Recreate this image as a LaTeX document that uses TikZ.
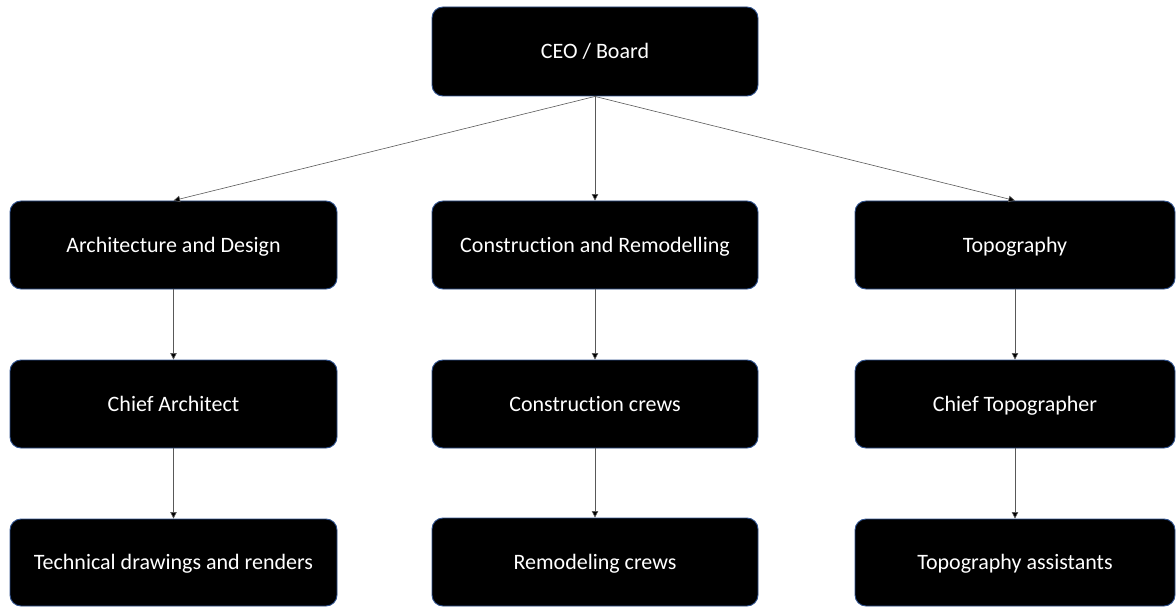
\documentclass[tikz,border=0pt]{standalone}
\usepackage{fontspec}
\setmainfont{Carlito}[Ligatures=NoCommon]
\usetikzlibrary{arrows.meta}
\begin{document}
\begin{tikzpicture}[x=1pt,y=-1pt,
  orgbox/.style={draw={rgb,255:red,47;green,82;blue,143}, line width=0.9pt,
    fill=black, text=white, rounded corners=11pt, inner sep=0pt,
    text height=17pt, text depth=3pt,
    font=\fontsize{22}{26}\selectfont},
  link/.style={draw=black!65, line width=0.6pt,
    -{Triangle[length=6.5pt,width=6.5pt,fill=black]}}]
  \useasboundingbox (0,0) rectangle (1176,607);

  % boxes given by their corners
  \newcommand{\orgnode}[6]{%
    \node[orgbox, minimum width=#4-#2, minimum height=#5-#3]
      (#1) at ({(#2+#4)/2},{(#3+#5)/2}) {#6};}

  \orgnode{ceo}{432}{7}{758}{96}{CEO / Board}

  \orgnode{arch}{10}{201}{337}{289}{Architecture and Design}
  \orgnode{cons}{432}{201}{758}{289}{Construction and Remodelling}
  \orgnode{topo}{855}{201}{1175}{289}{Topography}

  \orgnode{chiefa}{10}{360}{337}{448}{Chief Architect}
  \orgnode{crews}{432}{360}{758}{448}{Construction crews}
  \orgnode{chieft}{855}{360}{1175}{448}{Chief Topographer}

  \orgnode{tech}{10}{519}{337}{606}{Technical drawings and renders}
  \orgnode{remod}{432}{518}{758}{606}{Remodeling crews}
  \orgnode{assist}{855}{519}{1175}{606}{Topography assistants}

  % reporting lines
  \draw[link] (ceo.south) -- (arch.north);
  \draw[link] (ceo.south) -- (cons.north);
  \draw[link] (ceo.south) -- (topo.north);

  \draw[link] (arch.south) -- (chiefa.north);
  \draw[link] (chiefa.south) -- (tech.north);
  \draw[link] (cons.south) -- (crews.north);
  \draw[link] (crews.south) -- (remod.north);
  \draw[link] (topo.south) -- (chieft.north);
  \draw[link] (chieft.south) -- (assist.north);
\end{tikzpicture}
\end{document}
